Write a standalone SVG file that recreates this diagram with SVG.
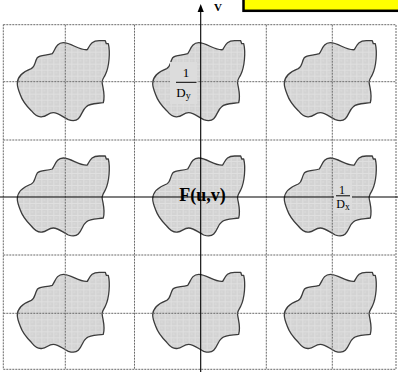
<svg xmlns="http://www.w3.org/2000/svg" xmlns:xlink="http://www.w3.org/1999/xlink" width="398" height="372" viewBox="0 0 398 372">
<style>
.grid{stroke:#6a6a6a;stroke-width:1;stroke-dasharray:2 1;fill:none}
.axis{stroke:#000;stroke-width:1.1;fill:none}
.blob{fill:url(#tex);stroke:#3c3c3c;stroke-width:1.3;stroke-linejoin:round}
.lbl{font-family:"Liberation Serif","Times New Roman",serif;fill:#000}
.txtbg{fill:#dcdcdc}
</style>
<defs>
<pattern id="tex" width="6" height="6" patternUnits="userSpaceOnUse">
<rect width="6" height="6" fill="#d3d3d3"/>
<path d="M0.5 0V6M0 0.5H6" stroke="#dfdfdf" stroke-width="1"/>
<circle cx="3" cy="3" r="0.7" fill="#e2e2e2"/>
</pattern>
<path id="blob" class="blob" d="M-48,2 C-48,-6 -42,-10 -34,-13 C-30,-15 -31,-19 -28,-24 C-25,-27 -19,-26 -13,-28 C-10,-32 -9,-39 -2,-39 C6,-39 14,-31 22,-32 C25,-37 26,-41 34,-41 L40,-41 L41,-38 L43,-38 C45,-30 44,-15 40,-7 C38,-3 36,-1 37,2 C38,8 40,14 38,21 C33,22 25,21 21,25 C17,28 17,33 13,37 C10,40 6,39 3,38 C-3,35 -7,31 -12,31 C-17,31 -19,35 -23,35 C-27,36 -30,34 -34,29 C-39,24 -43,19 -45,13 C-47,8 -48,5 -48,2 Z"/>
</defs>
<g id="title-box"><rect x="243.5" y="-6" width="170" height="16.8" fill="#ffff00" stroke="#000" stroke-width="2.5"/></g>
<g id="blob-r1c1"><use xlink:href="#blob" href="#blob" transform="translate(65.3,81.7)"/></g>
<g id="blob-r1c2"><use xlink:href="#blob" href="#blob" transform="translate(200.7,81.7)"/></g>
<g id="blob-r1c3"><use xlink:href="#blob" href="#blob" transform="translate(332.3,81.7)"/></g>
<g id="blob-r2c1"><use xlink:href="#blob" href="#blob" transform="translate(65.3,197)"/></g>
<g id="blob-r2c2"><use xlink:href="#blob" href="#blob" transform="translate(200.7,197)"/></g>
<g id="blob-r2c3"><use xlink:href="#blob" href="#blob" transform="translate(332.3,197)"/></g>
<g id="blob-r3c1"><use xlink:href="#blob" href="#blob" transform="translate(65.3,313.3)"/></g>
<g id="blob-r3c2"><use xlink:href="#blob" href="#blob" transform="translate(200.7,313.3)"/></g>
<g id="blob-r3c3"><use xlink:href="#blob" href="#blob" transform="translate(332.3,313.3)"/></g>
<g id="grid">
<rect class="grid" x="3.3" y="24.7" width="392.7" height="344.6"/>
<path class="grid" d="M65.3 24.7V369.3M134.5 24.7V369.3M266.3 24.7V369.3M332.3 24.7V369.3M3.3 81.7H396M3.3 140H396M3.3 255H396M3.3 313.3H396"/>
</g>
<g id="axes">
<path class="axis" d="M0 197H398M200.7 11V372"/>
<polygon points="200.7,4 197.6,12 203.8,12" fill="#000"/>
<text class="lbl" x="218" y="10.5" font-size="11" font-weight="bold" text-anchor="middle">V</text>
</g>
<g id="label-Dy">
<rect class="txtbg" x="170" y="62" width="27" height="42"/>
<text class="lbl" x="186" y="76.7" font-size="13" text-anchor="middle">1</text>
<line x1="176" y1="82.3" x2="196.5" y2="82.3" stroke="#000" stroke-width="1"/>
<text class="lbl" x="176.3" y="96.7" font-size="13">D<tspan font-size="10" dy="2.5">y</tspan></text>
</g>
<g id="label-Dx">
<rect class="txtbg" x="334" y="180" width="18" height="33"/>
<text class="lbl" x="342" y="194.2" font-size="12" text-anchor="middle">1</text>
<line x1="336" y1="195.8" x2="350" y2="195.8" stroke="#000" stroke-width="1"/>
<text class="lbl" x="336.3" y="208.3" font-size="12">D<tspan font-size="9.5" dy="2">x</tspan></text>
</g>
<g id="label-F">
<text class="lbl" x="202.5" y="201" font-size="18" font-weight="bold" text-anchor="middle">F(u,v)</text>
</g>
</svg>
